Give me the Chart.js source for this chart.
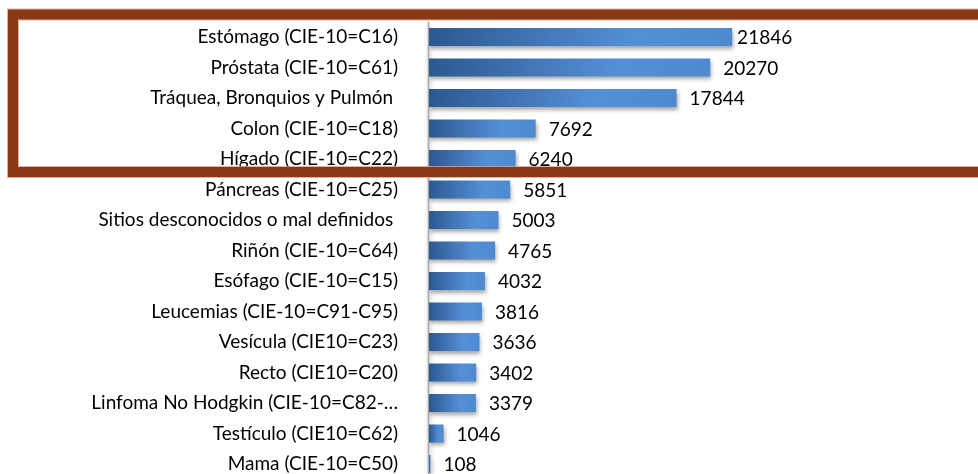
<!DOCTYPE html>
<html>
<head>
<meta charset="utf-8">
<script src="https://cdn.jsdelivr.net/npm/chart.js@4"></script>
<style>
  html, body { margin: 0; padding: 0; background: #fff; overflow: hidden; }
</style>
</head>
<body>
<canvas id="c" width="984" height="500"></canvas>
<script>
const categories = [
  "Estómago (CIE-10=C16)",
  "Próstata (CIE-10=C61)",
  "Tráquea, Bronquios y Pulmón ",
  "Colon (CIE-10=C18)",
  "Hígado (CIE-10=C22)",
  "Páncreas (CIE-10=C25)",
  "Sitios desconocidos o mal definidos ",
  "Riñón (CIE-10=C64)",
  "Esófago (CIE-10=C15)",
  "Leucemias (CIE-10=C91-C95)",
  "Vesícula (CIE10=C23)",
  "Recto (CIE10=C20)",
  "Linfoma No Hodgkin (CIE-10=C82-…",
  "Testículo (CIE10=C62)",
  "Mama (CIE-10=C50)"
];
const values = [21846, 20270, 17844, 7692, 6240, 5851, 5003, 4765, 4032, 3816, 3636, 3402, 3379, 1046, 108];
const xMax = 40000;
const highlightFirst = 0, highlightLast = 4;

const FONT = "Lato, 'Open Sans', sans-serif";

function barGradient(ctx) {
  const chart = ctx.chart;
  const area = chart.chartArea;
  const xs = chart.scales && chart.scales.x;
  if (!area || !xs || ctx.raw === undefined) return '#558ED5';
  const x0 = xs.getPixelForValue(0);
  const x1 = xs.getPixelForValue(ctx.raw);
  const g = chart.ctx.createLinearGradient(x0, 0, Math.max(x1, x0 + 1), 0);
  g.addColorStop(0, '#2C5891');
  g.addColorStop(0.68, '#5590D7');
  g.addColorStop(1, '#4F8AD1');
  return g;
}

const shadowPlugin = {
  id: 'barShadow',
  beforeDatasetsDraw(chart) {
    const c = chart.ctx;
    c.save();
    c.shadowColor = 'rgba(0,0,0,0.35)';
    c.shadowBlur = 4;
    c.shadowOffsetX = 1;
    c.shadowOffsetY = 3;
  },
  afterDatasetsDraw(chart) {
    chart.ctx.restore();
  }
};

const valueLabels = {
  id: 'valueLabels',
  afterDatasetsDraw(chart) {
    const c = chart.ctx;
    const meta = chart.getDatasetMeta(0);
    c.save();
    c.font = "19px " + FONT;
    c.fillStyle = '#000';
    c.textBaseline = 'middle';
    c.textAlign = 'left';
    const maxV = Math.max(...values);
    meta.data.forEach((bar, i) => {
      const off = values[i] === maxV ? 5 : 13;
      c.fillText(String(values[i]), bar.x + off, bar.y + 1);
    });
    c.restore();
  }
};

const axisLine = {
  id: 'axisLine',
  beforeDatasetsDraw(chart) {
    const a = chart.chartArea, c = chart.ctx;
    c.save();
    c.strokeStyle = '#A6A6A6';
    c.lineWidth = 1.5;
    c.beginPath();
    c.moveTo(a.left - 0.5, a.top);
    c.lineTo(a.left - 0.5, a.bottom);
    c.stroke();
    c.restore();
  }
};

const frame = {
  id: 'frame',
  afterDraw(chart) {
    const c = chart.ctx;
    const y = chart.scales.y;
    const half = (y.getPixelForValue(1) - y.getPixelForValue(0)) / 2;
    const top = y.getPixelForValue(highlightFirst) - half - 7.25;
    const bottom = y.getPixelForValue(highlightLast) + half - 2.25;
    const left = 13;
    const right = chart.width + 20;
    c.save();
    c.strokeStyle = 'rgba(215,160,140,0.8)';
    c.lineWidth = 12;
    c.strokeRect(left, top, right - left, bottom - top);
    c.strokeStyle = '#8B3816';
    c.lineWidth = 10;
    c.strokeRect(left, top, right - left, bottom - top);
    c.restore();
  }
};

new Chart(document.getElementById('c'), {
  type: 'bar',
  data: {
    labels: categories,
    datasets: [{
      data: values,
      backgroundColor: barGradient,
      borderWidth: 0,
      barPercentage: 0.59,
      categoryPercentage: 1.0
    }]
  },
  options: {
    indexAxis: 'y',
    responsive: false,
    animation: false,
    layout: { padding: { top: 21.75, bottom: 20.75, left: 0, right: 0 } },
    plugins: { legend: { display: false }, tooltip: { enabled: false } },
    scales: {
      x: { display: false, min: 0, max: xMax },
      y: {
        grid: { display: false, drawBorder: false },
        border: { display: false },
        ticks: {
          color: '#000',
          font: { family: FONT, size: 19 },
          padding: 23,
          autoSkip: false
        },
        afterFit(scale) {
          scale.width = 429;
          scale.paddingTop = 0;
          scale.paddingBottom = 0;
        }
      }
    }
  },
  plugins: [shadowPlugin, axisLine, valueLabels, frame]
});
</script>
</body>
</html>
